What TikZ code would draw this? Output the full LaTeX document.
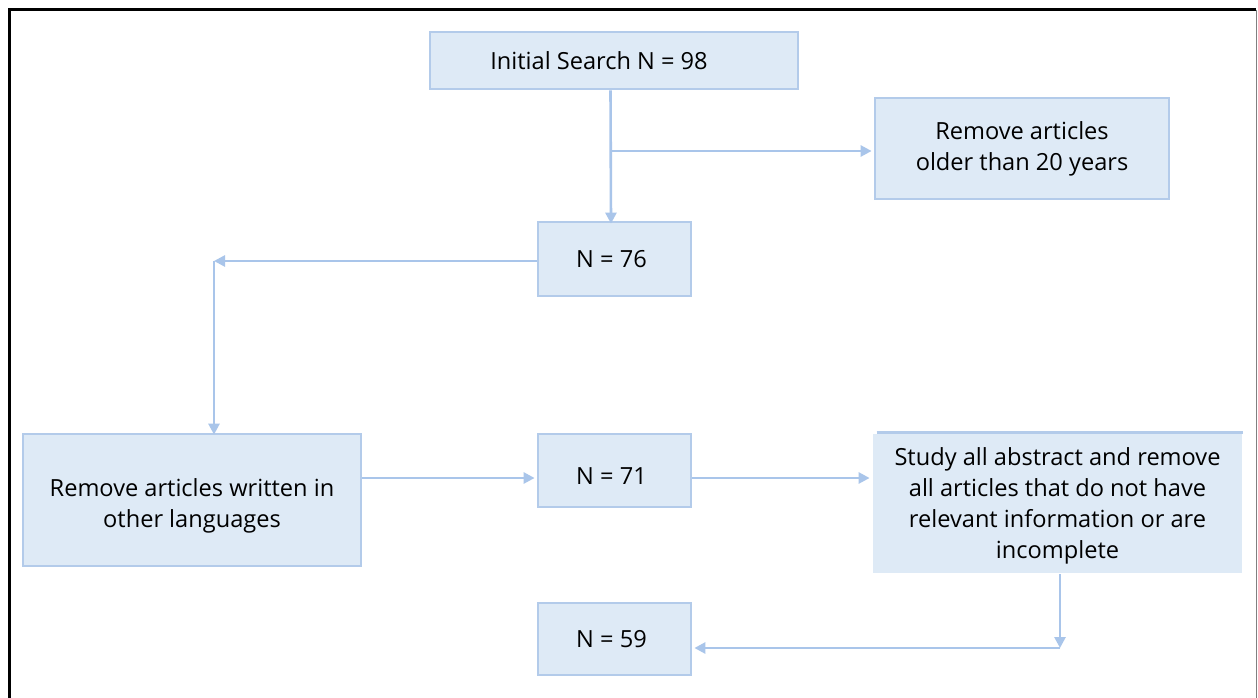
\documentclass[tikz,border=0pt]{standalone}
\usepackage{fontspec}
\setmainfont{Open Sans}
\usetikzlibrary{arrows.meta}
\definecolor{boxfill}{HTML}{DEEAF6}
\definecolor{boxline}{HTML}{B3CBEA}
\definecolor{arrcol}{HTML}{A9C5EA}
\tikzset{
  txt/.style={align=center, inner sep=0pt, font=\fontsize{23.6pt}{31pt}\selectfont},
  box/.style={fill=boxfill, draw=boxline, line width=2.8pt, txt},
  arr/.style={draw=arrcol, line width=2.6pt, -{Triangle[length=11pt,width=11pt]}}
}
\begin{document}
\begin{tikzpicture}[x=1pt,y=-1pt]
\useasboundingbox (0,0) rectangle (1258,698);
\fill[white] (0,0) rectangle (1258,698);
% frame
\draw[black, line width=3pt] (9,698) -- (9,10) -- (1256,10);
\draw[gray, line width=1pt] (1256,10) -- (1256,698);
% boxes
\node[box, minimum width=368pt, minimum height=57pt] (init) at (614,60.5) {Initial Search N = 98\hspace*{30pt}};
\node[box, minimum width=294pt, minimum height=101pt] (old) at (1022,148.5) {Remove articles\\older than 20 years};
\node[box, minimum width=153pt, minimum height=74pt] (n76) at (614.5,259) {N = 76\hspace*{6pt}};
\node[box, minimum width=338pt, minimum height=132pt,
  label={[txt,yshift=-6pt]center:{Remove articles written in\\other languages}}] (lang) at (192,500) {};
\node[box, minimum width=153pt, minimum height=73pt,
  label={[txt,yshift=-6pt]center:{N = 71\hspace*{6pt}}}] (n71) at (614.5,470.5) {};
\node[box, draw=none, minimum width=369pt, minimum height=139pt,
  label={[txt,yshift=-2.5pt]center:{Study all abstract and remove\\all articles that do not have\\relevant information or are\\incomplete}}] (study) at (1057.5,503.5) {};
\draw[boxline, line width=2.8pt] ([xshift=5pt]study.north west) -- (study.north east);
\node[box, minimum width=153pt, minimum height=72pt] (n59) at (614.5,639) {N = 59\hspace*{6pt}};
% connectors
\coordinate (b1) at (611,151);
\coordinate (c1) at (214,261);
\coordinate (c2) at (1060,648);
\coordinate (h) at (0,478);
\draw[arr] ([xshift=-3.5pt]init.south) -- ([xshift=-3.5pt,yshift=-3pt]n76.north);
\draw[arr] (b1) -- ([xshift=-2pt]old.west |- b1);
\draw[arr] (n76.west |- c1) -- (c1);
\draw[arr] (c1) -- ([yshift=-2pt]lang.north -| c1);
\draw[arr] (lang.east |- h) -- ([xshift=-2pt]n71.west |- h);
\draw[arr] (n71.east |- h) -- ([xshift=-2pt]study.west |- h);
\draw[arr] (study.south -| c2) -- (c2);
\draw[arr] (c2) -- ([xshift=2pt]n59.east |- c2);
\end{tikzpicture}
\end{document}
